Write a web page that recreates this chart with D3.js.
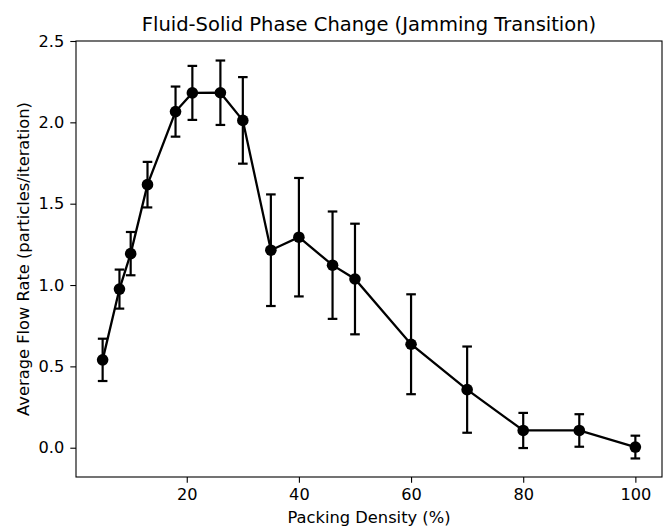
<!DOCTYPE html>
<html><head><meta charset="utf-8">
<script src="https://cdn.jsdelivr.net/npm/d3@7"></script>
<style>body{margin:0;background:#fff}svg{display:block;font-family:"DejaVu Sans",sans-serif}</style>
</head><body>
<svg id="c" width="663" height="528"></svg>
<script>
const density = [5, 8, 10, 13, 18, 21, 26, 30, 35, 40, 46, 50, 60, 70, 80, 90, 100];
const flowRate = [0.54, 0.975, 1.193, 1.617, 2.066, 2.181, 2.182, 2.012, 1.214, 1.294, 1.122, 1.037, 0.636, 0.357, 0.106, 0.106, 0.004];
const flowErr = [0.13, 0.12, 0.133, 0.14, 0.154, 0.166, 0.198, 0.266, 0.343, 0.364, 0.33, 0.34, 0.307, 0.265, 0.108, 0.10, 0.07];
const xTicks = [20, 40, 60, 80, 100];
const yTicks = [0.0, 0.5, 1.0, 1.5, 2.0, 2.5];
const title = "Fluid-Solid Phase Change (Jamming Transition)";
const xLabel = "Packing Density (%)";
const yLabel = "Average Flow Rate (particles/iteration)";

const svg = d3.select("#c");
const L = 76, R = 662, T = 41, B = 477;
const x = d3.scaleLinear().domain([0.25, 104.75]).range([L, R]);
const y = d3.scaleLinear().domain([-0.18, 2.50]).range([B, T]);

const data = density.map((d, i) => ({x: d, y: flowRate[i], e: flowErr[i]}));

// axes
const xa = svg.append("g").attr("transform", `translate(0,${B})`)
  .call(d3.axisBottom(x).tickValues(xTicks).tickFormat(d3.format("d")).tickSizeOuter(0).tickSize(5.7).tickPadding(6));
const ya = svg.append("g").attr("transform", `translate(${L},0)`)
  .call(d3.axisLeft(y).tickValues(yTicks).tickFormat(d3.format(".1f")).tickSizeOuter(0).tickSize(5.7).tickPadding(6));
[xa, ya].forEach(a => {
  a.select(".domain").remove();
  a.selectAll("line").attr("stroke", "#000").attr("stroke-width", 1.1);
  a.selectAll("text").attr("font-family", "DejaVu Sans").attr("font-size", 16.2).attr("fill", "#000");
});
// frame
svg.append("rect").attr("x", L).attr("y", T).attr("width", R - L).attr("height", B - T)
  .attr("fill", "none").attr("stroke", "#000").attr("stroke-width", 1.1);

// error bars
const eb = svg.append("g").attr("stroke", "#000").attr("stroke-width", 2.2);
data.forEach(d => {
  eb.append("line").attr("x1", x(d.x)).attr("x2", x(d.x)).attr("y1", y(d.y - d.e)).attr("y2", y(d.y + d.e));
  [d.y - d.e, d.y + d.e].forEach(v => {
    eb.append("line").attr("x1", x(d.x) - 4.8).attr("x2", x(d.x) + 4.8).attr("y1", y(v)).attr("y2", y(v));
  });
});

// line
svg.append("path").datum(data)
  .attr("d", d3.line().x(d => x(d.x)).y(d => y(d.y)))
  .attr("fill", "none").attr("stroke", "#000").attr("stroke-width", 2.3);
// markers
svg.append("g").selectAll("circle").data(data).join("circle")
  .attr("cx", d => x(d.x)).attr("cy", d => y(d.y)).attr("r", 5.8).attr("fill", "#000");

// labels
svg.append("text").attr("x", (L + R) / 2).attr("y", 30.5).attr("text-anchor", "middle")
  .attr("font-size", 19.5).text(title);
svg.append("text").attr("x", (L + R) / 2).attr("y", 523).attr("text-anchor", "middle")
  .attr("font-size", 16.3).text(xLabel);
svg.append("text").attr("transform", `translate(29,${(T + B) / 2}) rotate(-90)`).attr("text-anchor", "middle")
  .attr("font-size", 16.3).text(yLabel);
</script>
</body></html>
